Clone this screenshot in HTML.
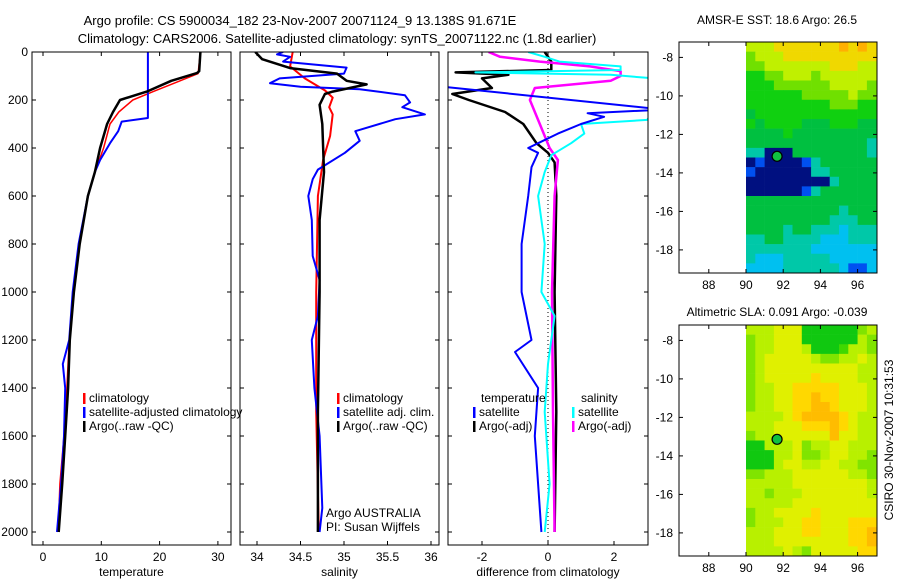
<!DOCTYPE html>
<html><head><meta charset="utf-8">
<style>
html,body{margin:0;padding:0;background:#fff;}
svg{display:block;font-family:"Liberation Sans",sans-serif;}
text{font-size:12px;fill:#000;}
</style></head>
<body>
<svg id="chart" width="900" height="580" viewBox="0 0 900 580" xmlns="http://www.w3.org/2000/svg">
<text x="300" y="25" text-anchor="middle" style="font-size:13px">Argo profile: CS 5900034_182 23-Nov-2007 20071124_9 13.138S 91.671E</text>
<text x="337" y="43" text-anchor="middle" style="font-size:13px">Climatology: CARS2006. Satellite-adjusted climatology: synTS_20071122.nc (1.8d earlier)</text>
<text x="777" y="24" text-anchor="middle">AMSR-E SST: 18.6  Argo: 26.5</text>
<text x="777" y="316" text-anchor="middle">Altimetric SLA: 0.091  Argo: -0.039</text>
<text transform="translate(893,440) rotate(-90)" text-anchor="middle">CSIRO 30-Nov-2007 10:31:53</text>
<g id="layer"></g>
</svg>
<script>
// ---- data ----
const depthTicks = [0,200,400,600,800,1000,1200,1400,1600,1800,2000];
const tempTicks = [0,10,20,30];
const salTicks = [34,34.5,35,35.5,36];
const diffTicks = [-2,0,2];
const tempClimDepth = [0,90,130,165,200,250,300,400,500,600,800,1000,1200,1400,1600,1800,2000];
const tempClimVal =   [27,26.6,22.5,18.9,15.4,13,11.5,10.4,8.9,7.7,6.3,5.3,4.5,4.1,3.6,2.9,2.6];
const tempSatDepth = [0,275,290,330,380,450,500,600,800,1000,1200,1300,1400,1600,1800,2000];
const tempSatVal =   [18,18,13.5,12.9,11.5,9.8,8.9,7.7,6.1,5.1,4.5,3.4,3.8,3.6,3.1,2.4];
const tempArgoDepth = [0,80,88,120,165,200,250,300,400,500,600,800,1000,1200,1400,1600,1800,2000];
const tempArgoVal =   [27,26.8,26.4,22,17.8,13.2,12,11,9.8,8.9,7.7,6.3,5.3,4.6,4.3,3.8,3.3,2.7];
const salClimDepth = [0,60,110,160,190,230,260,350,450,600,1000,1500,2000];
const salClimVal =   [34.41,34.38,34.55,34.78,34.87,34.83,34.87,34.84,34.76,34.70,34.68,34.68,34.71];
const salSatDepth = [0,10,20,40,65,90,110,130,145,155,180,210,230,260,280,330,370,420,490,530,600,700,850,950,1100,1200,1400,1600,1900,2000];
const salSatVal =   [34.3,34.23,34.38,34.3,35.03,35.0,34.26,34.15,34.5,35.18,35.7,35.76,35.67,35.93,35.59,35.13,35.18,35.01,34.7,34.64,34.59,34.63,34.64,34.72,34.7,34.63,34.66,34.72,34.75,34.72];
const salArgoDepth = [0,30,67,90,120,135,165,175,220,300,500,700,1000,1500,2000];
const salArgoVal =   [33.98,34.06,34.38,34.92,35.03,35.26,34.87,34.78,34.72,34.75,34.77,34.72,34.72,34.70,34.70];
const dTempSatDepth = [0,120,140,240,255,270,300,340,380,400,420,480,600,800,1000,1200,1250,1400,1600,1800,2000];
const dTempSatVal =   [-9,-9,-3.5,3.5,1.2,1.7,1.0,0.3,-0.3,-0.6,-0.3,-0.5,-0.6,-0.8,-0.8,-0.5,-1.0,-0.3,-0.4,-0.3,-0.2];
const dTempArgoDepth = [0,40,75,85,95,110,150,175,200,250,300,380,420,460,600,1000,1500,2000];
const dTempArgoVal =   [-0.1,0.1,0.1,-2.8,-1.2,-2.0,-1.7,-2.9,-2.4,-1.3,-0.75,-0.35,0,0.2,0.25,0.2,0.25,0.2];
const dSalSatDepth = [0,20,40,60,75,85,95,110,140,200,283,300,340,380,430,500,600,800,1000,1100,1300,1500,1800,2000];
const dSalSatVal =   [-0.6,-0.1,0.35,2.2,2.2,-2.2,1.9,3.2,3.5,3.5,3.0,1.0,1.1,0.7,0.1,-0.1,-0.3,-0.1,-0.2,0.2,0,-0.1,0.05,-0.1];
const dSalArgoDepth = [0,20,40,60,80,100,120,150,200,300,400,450,600,1000,1500,2000];
const dSalArgoVal =   [-1.8,-1.45,-0.25,1.27,2.2,2.2,1.9,-0.4,-0.55,-0.25,0.05,0.3,0.2,0.12,0.15,0.2];
const lonTicks = [88,90,92,94,96];
const latTicks1 = [-8,-10,-12,-14,-16,-18];
const latTicks2 = [-8,-10,-12,-14,-16,-18];
const argoLon = 91.671, argoLat = -13.138;
const sstGrid = [
"77788888889898","67778888888888","66777777788877","55667776777777",
"55566666677776","55555566666766","55555555566655","45555555555555",
"54555544455544","44445444444444","44444444444443","33000444444443",
"01000013444444","10000003344444","00000000034444","00000013444444",
"44444444444444","44444444443444","44444444433344","44443443332333",
"33443333222333","33333332222222","32223333322222","22223333332112"];
const slaGrid = [
"77788844444467","67788844444476","67788874445776","67888887667787",
"67888888888877","67888889888877","67788999998887","6778899a998887",
"6778899aa98887","777789aaaa9877","777888999a9877","677888888a8877",
"44777867788777","44477866788776","44478877887766","66777888888776",
"77777888888887","77677788888887","77777888888888","67788889888888",
"67778899888999","7778889988899a","7778888888899a","77778768888899"];
const sstPalette = {"0":"#001080","1":"#0050f0","2":"#00c0f0","3":"#00c8a8","4":"#00c040","5":"#10d010","6":"#70e000","7":"#c0f000","8":"#f0d800","9":"#ffb000"};
const slaPalette = {"4":"#10c810","5":"#40d800","6":"#80e400","7":"#b8f000","8":"#e0f000","9":"#ffd800","a":"#ffbc00"};

// ---- drawing ----
const NS="http://www.w3.org/2000/svg";
const layer=document.getElementById('layer');
function el(tag,attrs,parent){const e=document.createElementNS(NS,tag);for(const k in attrs)e.setAttribute(k,attrs[k]);(parent||layer).appendChild(e);return e;}
const yD=d=>52+d*0.24;
const panels=[
 {x0:32,x1:231,xs:v=>43+v*5.83,ticks:tempTicks,label:'temperature',name:'temperature-panel'},
 {x0:240,x1:439,xs:v=>257+(v-34)*87,ticks:salTicks,label:'salinity',name:'salinity-panel'},
 {x0:448,x1:648,xs:v=>548+v*33,ticks:diffTicks,label:'difference from climatology',name:'difference-panel'}];
panels.forEach((p,i)=>{
  const g=el('g',{});
  
  
  const cp=el('clipPath',{id:'cp'+i},g);el('rect',{x:p.x0,y:52,width:p.x1-p.x0,height:493},cp);
  p.g=el('g',{'clip-path':'url(#cp'+i+')'},g);
  el('rect',{x:p.x0,y:52,width:p.x1-p.x0,height:493,fill:'none',stroke:'#000','stroke-width':1},g);
  depthTicks.forEach(d=>{
    el('line',{x1:p.x0,x2:p.x0+4,y1:yD(d),y2:yD(d),stroke:'#000'},g);
    el('line',{x1:p.x1-4,x2:p.x1,y1:yD(d),y2:yD(d),stroke:'#000'},g);
    if(i===0){const t=el('text',{x:28,y:yD(d)+4,'text-anchor':'end'},g);t.textContent=d;
      
      }
  });
  p.ticks.forEach(v=>{const x=p.xs(v);
    el('line',{x1:x,x2:x,y1:52,y2:56,stroke:'#000'},g);el('line',{x1:x,x2:x,y1:541,y2:545,stroke:'#000'},g);
    const t=el('text',{x:x,y:561,'text-anchor':'middle'},g);t.textContent=v;
    
    });
  const xl=el('text',{x:(p.x0+p.x1)/2,y:576,'text-anchor':'middle'},g);xl.textContent=p.label;
  
  
});
function line(p,ds,vs,color,w,name){
  const pts=ds.map((d,k)=>p.xs(vs[k]).toFixed(1)+','+yD(d).toFixed(1)).join(' ');
  const l=el('polyline',{points:pts,fill:'none',stroke:color,'stroke-width':w,'stroke-linejoin':'round'},p.g);
  
  
}
el('line',{x1:548,x2:548,y1:52,y2:545,stroke:'#000','stroke-dasharray':'1,3'},panels[2].g);
line(panels[0],tempClimDepth,tempClimVal,'#f00',1.5,'temp-climatology-line');
line(panels[0],tempSatDepth,tempSatVal,'#00f',2,'temp-satellite-line');
line(panels[0],tempArgoDepth,tempArgoVal,'#000',2.5,'temp-argo-line');
line(panels[1],salClimDepth,salClimVal,'#f00',2,'sal-climatology-line');
line(panels[1],salSatDepth,salSatVal,'#00f',2,'sal-satellite-line');
line(panels[1],salArgoDepth,salArgoVal,'#000',2.5,'sal-argo-line');
line(panels[2],dTempArgoDepth,dTempArgoVal,'#000',2.5,'diff-temp-argo-line');
line(panels[2],dSalArgoDepth,dSalArgoVal,'#f0f',2.5,'diff-sal-argo-line');
line(panels[2],dSalSatDepth,dSalSatVal,'#0ff',2,'diff-sal-satellite-line');
line(panels[2],dTempSatDepth,dTempSatVal,'#00f',2,'diff-temp-satellite-line');
function legend(x,y,color,label){
  const g=el('g',{});
  
  
  el('rect',{x:x,y:y-9,width:2.5,height:11,fill:color},g);
  const t=el('text',{x:x+6,y:y},g);t.textContent=label;
}
legend(83,402,'#f00','climatology');legend(83,416,'#00f','satellite-adjusted climatology');legend(83,430,'#000','Argo(..raw -QC)');
legend(337,402,'#f00','climatology');legend(337,416,'#00f','satellite adj. clim.');legend(337,430,'#000','Argo(..raw -QC)');
{const t=el('text',{x:481,y:402});t.textContent='temperature';
 
 
 const t2=el('text',{x:581,y:402});t2.textContent='salinity';
 
 }
legend(473,416,'#00f','satellite');legend(473,430,'#000','Argo(-adj)');
legend(572,416,'#0ff','satellite');legend(572,430,'#f0f','Argo(-adj)');
{const t=el('text',{x:326,y:517});t.textContent='Argo AUSTRALIA';
 
 
 const t2=el('text',{x:326,y:531});t2.textContent='PI: Susan Wijffels';
 
 }

// maps
function map(top,grid,pal,latTicks,name){
  const g=el('g',{});
  
  
  const L=679,R=877,B=top+231;
  const lonX=v=>746+(v-90)*18.6;
  const latY=v=>top+(-7.2-v)*19.25;
  grid.forEach((row,r)=>{for(let c=0;c<row.length;c++){
    const lon=90+c*0.5, lat=-7.2-r*0.5;
    const x0=lonX(lon),x1=Math.min(lonX(lon+0.5),R),y0=latY(lat),y1=latY(lat-0.5);
    const cell=el('rect',{x:x0,y:y0,width:x1-x0+0.3,height:y1-y0+0.3,fill:pal[row[c]]},g);
    
    
  }});
  el('rect',{x:L,y:top,width:R-L,height:B-top,fill:'none',stroke:'#000'},g);
  lonTicks.forEach(v=>{const x=lonX(v);
    el('line',{x1:x,x2:x,y1:top,y2:top+4,stroke:'#000'},g);el('line',{x1:x,x2:x,y1:B-4,y2:B,stroke:'#000'},g);
    const t=el('text',{x:x,y:B+16,'text-anchor':'middle'},g);t.textContent=v;});
  latTicks.forEach(v=>{const y=latY(v);
    el('line',{x1:L,x2:L+4,y1:y,y2:y,stroke:'#000'},g);el('line',{x1:R-4,x2:R,y1:y,y2:y,stroke:'#000'},g);
    const t=el('text',{x:L-6,y:y+4,'text-anchor':'end'},g);t.textContent=v;});
  const dot=el('circle',{cx:lonX(argoLon),cy:latY(argoLat),r:5,fill:'#10c040',stroke:'#000','stroke-width':1.2},g);
  
  
}
map(42,sstGrid,sstPalette,latTicks1,'sst-map');
map(325,slaGrid,slaPalette,latTicks2,'sla-map');
</script>
</body></html>
